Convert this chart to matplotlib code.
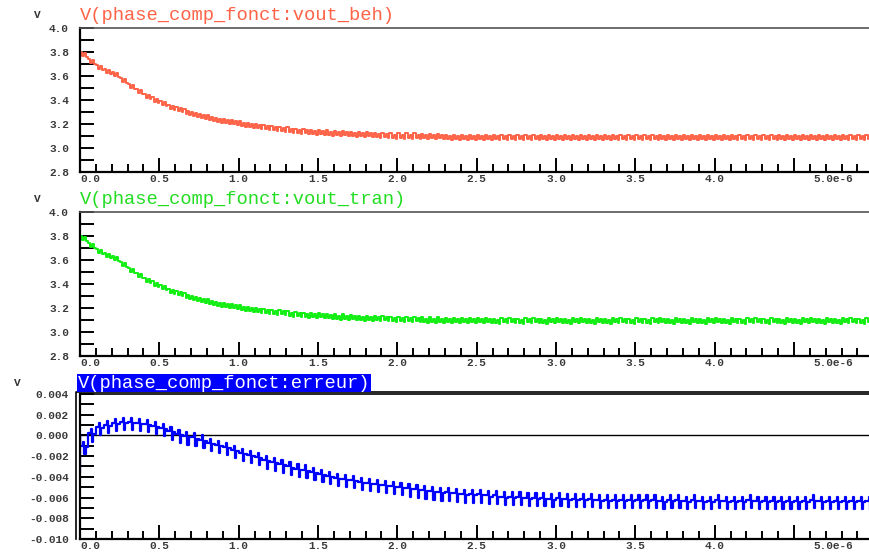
import numpy as np
import matplotlib
matplotlib.use('Agg')
import matplotlib.pyplot as plt
from matplotlib.ticker import MultipleLocator

# one level per clock cycle (period 0.05)
period = 0.05
vout_beh = [3.78, 3.72, 3.67, 3.64, 3.61, 3.56, 3.51, 3.47, 3.43, 3.40,
            3.37, 3.34, 3.32, 3.30, 3.28, 3.26, 3.25, 3.23, 3.22, 3.21,
            3.20, 3.19, 3.18, 3.17, 3.16, 3.155, 3.15, 3.14, 3.135, 3.13,
            3.13, 3.125, 3.12, 3.12, 3.115, 3.11, 3.11, 3.105, 3.105, 3.10,
            3.10, 3.10, 3.10, 3.095, 3.095, 3.095, 3.09, 3.09, 3.09, 3.09,
            3.09, 3.09, 3.085, 3.09, 3.09, 3.085, 3.09, 3.09, 3.085, 3.09,
            3.09, 3.085, 3.09, 3.09, 3.085, 3.09, 3.085, 3.09, 3.09, 3.085,
            3.09, 3.085, 3.09, 3.09, 3.085, 3.09, 3.085, 3.09, 3.085, 3.09,
            3.09, 3.085, 3.09, 3.085, 3.09, 3.09, 3.085, 3.09, 3.085, 3.09,
            3.085, 3.09, 3.09, 3.085, 3.09, 3.085, 3.09, 3.09, 3.085, 3.09]
vout_tran = [3.78, 3.72, 3.67, 3.64, 3.61, 3.56, 3.51, 3.47, 3.43, 3.40,
             3.37, 3.34, 3.32, 3.30, 3.28, 3.26, 3.25, 3.23, 3.22, 3.21,
             3.20, 3.19, 3.18, 3.17, 3.165, 3.16, 3.15, 3.145, 3.14, 3.135,
             3.135, 3.13, 3.125, 3.125, 3.12, 3.115, 3.115, 3.11, 3.11, 3.105,
             3.105, 3.105, 3.105, 3.10, 3.10, 3.10, 3.095, 3.095, 3.095, 3.095,
             3.095, 3.095, 3.09, 3.095, 3.095, 3.09, 3.095, 3.095, 3.09, 3.095,
             3.095, 3.09, 3.095, 3.095, 3.09, 3.095, 3.09, 3.095, 3.095, 3.09,
             3.095, 3.09, 3.095, 3.095, 3.09, 3.095, 3.09, 3.095, 3.09, 3.095,
             3.095, 3.09, 3.095, 3.09, 3.095, 3.095, 3.09, 3.095, 3.09, 3.095,
             3.09, 3.095, 3.095, 3.09, 3.095, 3.09, 3.095, 3.095, 3.09, 3.095]
erreur = [-0.0010, 0.0002, 0.0008, 0.0010, 0.0012, 0.0013, 0.0013, 0.0012, 0.0011, 0.0009,
          0.0007, 0.0004, 0.0001, -0.0001, -0.0002, -0.0004, -0.0007, -0.0009, -0.0011, -0.0014,
          -0.0017, -0.0019, -0.0021, -0.0024, -0.0026, -0.0028, -0.0030, -0.0032, -0.0033, -0.0035,
          -0.0037, -0.0039, -0.0041, -0.0042, -0.0043, -0.0045, -0.0046, -0.0047, -0.0048, -0.0049,
          -0.0050, -0.0051, -0.0052, -0.0053, -0.0054, -0.0055, -0.0055, -0.0056, -0.0057, -0.0057,
          -0.0057, -0.0058, -0.0058, -0.0059, -0.0059, -0.0059, -0.0060, -0.0060, -0.0060, -0.0061,
          -0.0060, -0.0061, -0.0061, -0.0061, -0.0061, -0.0062, -0.0062, -0.0062, -0.0062, -0.0062,
          -0.0062, -0.0062, -0.0062, -0.0063, -0.0062, -0.0062, -0.0063, -0.0062, -0.0063, -0.0063,
          -0.0062, -0.0063, -0.0063, -0.0063, -0.0062, -0.0063, -0.0063, -0.0063, -0.0063, -0.0063,
          -0.0063, -0.0063, -0.0062, -0.0063, -0.0063, -0.0063, -0.0063, -0.0063, -0.0063, -0.0063]

# start of each trace (value at t=0 before the first cycle level)
vout_start = [3.84]
err_start = [-0.0035, 0.0]

# ripple inside one cycle: position (fraction of period) and offset
ripple_pos = [0.0, 0.3, 0.55, 0.8]
ripple_v = [0.022, -0.014, 0.012, -0.022]
ripple_epos = [0.0, 0.4, 0.55, 0.7]
ripple_e = [0.0, 0.0004, -0.0008, -0.0001]


def stepped(levels, pos, offs, start):
    t = [0.0] * len(start)
    y = list(start)
    for k, lv in enumerate(levels):
        for p, o in zip(pos, offs):
            t.append((k + p) * period)
            y.append(lv + o)
    t.append(len(levels) * period)
    y.append(levels[-1])
    return t, y


W, H = 869, 554
fig = plt.figure(figsize=(W / 100, H / 100), dpi=100)
fig.patch.set_facecolor('white')

tick_font = dict(family='Liberation Mono', size=8, weight='bold')
title_font = dict(family='Liberation Mono', size=13.5)
xmax = (W - 79.3) / 158.8


def style_axes(ax, ylo, yhi, ymaj, ymin, fmt):
    ax.set_xlim(0, xmax)
    ax.set_ylim(ylo, yhi)
    ax.spines['right'].set_visible(False)
    ax.spines['top'].set_color('#555555')
    ax.spines['top'].set_linewidth(1.2)
    ax.spines['left'].set_linewidth(1.6)
    ax.spines['bottom'].set_linewidth(1.6)
    ax.xaxis.set_major_locator(MultipleLocator(0.5))
    ax.xaxis.set_minor_locator(MultipleLocator(0.1))
    ax.yaxis.set_major_locator(MultipleLocator(ymaj))
    ax.yaxis.set_minor_locator(MultipleLocator(ymin))
    ax.tick_params(which='major', axis='x', direction='in', length=10, width=1.4, pad=1.5)
    ax.tick_params(which='minor', axis='x', direction='in', length=6, width=1.4)
    ax.tick_params(which='both', axis='y', direction='in', length=10, width=1.4, pad=8)
    xt = np.arange(0, 5.0, 0.5)
    labs = ['%.1f' % v for v in xt]
    labs[-1] = ''
    ax.set_xticks(xt)
    ax.set_xticklabels(labs)
    yt = np.arange(ylo, yhi + ymaj / 2, ymaj)
    ax.set_yticks(yt)
    ax.set_yticklabels([fmt % v for v in yt])
    for lab in ax.get_xticklabels() + ax.get_yticklabels():
        lab.set_fontproperties(tick_font)
        lab.set_color('#3a3a3a')
    ax.get_xticklabels()[0].set_horizontalalignment('left')
    ax.text(4.62, -0.015, '5.0e-6', transform=ax.get_xaxis_transform(),
            ha='left', va='top', color='#3a3a3a', **tick_font)


ax1 = fig.add_axes([80 / W, 1 - 172 / H, (W - 80) / W, 144 / H])
t, y = stepped(vout_beh, ripple_pos, ripple_v, vout_start)
ax1.plot(t, y, drawstyle='steps-post', color='#ff6347', lw=1.4)
style_axes(ax1, 2.8, 4.0, 0.2, 0.1, '%.1f')

ax2 = fig.add_axes([80 / W, 1 - 356 / H, (W - 80) / W, 144 / H])
t, y = stepped(vout_tran, ripple_pos, ripple_v, vout_start)
ax2.plot(t, y, drawstyle='steps-post', color='#11ee11', lw=1.4)
style_axes(ax2, 2.8, 4.0, 0.2, 0.1, '%.1f')

ax3 = fig.add_axes([80 / W, 1 - 539 / H, (W - 80) / W, 145 / H])
t, y = stepped(erreur, ripple_epos, ripple_e, err_start)
ax3.axhline(0, color='black', lw=1.0)
ax3.plot(t, y, drawstyle='steps-post', color='#0000ff', lw=1.6)
style_axes(ax3, -0.010, 0.004, 0.002, 0.001, '%.3f')
ax3.spines['top'].set_color('black')
# selection frame around the active panel
ax3.plot([-0.005, -0.005, 1.0], [0.0, 1.012, 1.012], transform=ax3.transAxes,
         color='black', lw=1.2, clip_on=False)

# unit and trace names
fig.text(37 / W, 1 - 15 / H, 'V', color='#333333', ha='center', va='center', **tick_font)
fig.text(37 / W, 1 - 199 / H, 'V', color='#333333', ha='center', va='center', **tick_font)
fig.text(17 / W, 1 - 383 / H, 'V', color='#333333', ha='center', va='center', **tick_font)
fig.text(80 / W, 1 - 15 / H, 'V(phase_comp_fonct:vout_beh)', color='#ff6347',
         ha='left', va='center', **title_font)
fig.text(80 / W, 1 - 199 / H, 'V(phase_comp_fonct:vout_tran)', color='#22dd22',
         ha='left', va='center', **title_font)
fig.text(78 / W, 1 - 383 / H, 'V(phase_comp_fonct:erreur)', color='white',
         ha='left', va='center',
         bbox=dict(facecolor='#0000ff', edgecolor='none', pad=0.5), **title_font)

fig.savefig('out.png', dpi=100)
